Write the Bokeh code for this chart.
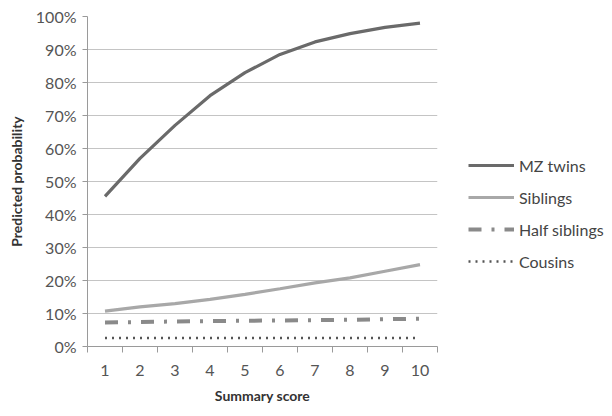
from bokeh.plotting import figure
from bokeh.models import FixedTicker, Legend, LegendItem, NumeralTickFormatter
from bokeh.embed import file_html
from bokeh.resources import INLINE

scores = [1, 2, 3, 4, 5, 6, 7, 8, 9, 10]
mz_twins = [0.455, 0.570, 0.670, 0.760, 0.830, 0.885, 0.923, 0.948, 0.967, 0.980]
siblings = [0.107, 0.120, 0.130, 0.143, 0.158, 0.175, 0.193, 0.208, 0.228, 0.248]
half_siblings = [0.073, 0.074, 0.076, 0.077, 0.078, 0.079, 0.080, 0.081, 0.083, 0.084]
cousins = [0.026, 0.026, 0.026, 0.026, 0.026, 0.026, 0.026, 0.026, 0.026, 0.026]
y_ticks = [0, 0.1, 0.2, 0.3, 0.4, 0.5, 0.6, 0.7, 0.8, 0.9, 1.0]

FONT = "Lato"
p = figure(frame_width=350, frame_height=330, x_range=(0.5, 10.5), y_range=(0, 1.0),
           output_backend="svg", toolbar_location=None,
           min_border_left=87, min_border_top=16, min_border_bottom=10, min_border_right=158)
p.outline_line_color = None
p.background_fill_color = "white"

r1 = p.line(scores, mz_twins, line_color="#6a6a6a", line_width=3.2)
r2 = p.line(scores, siblings, line_color="#a8a8a8", line_width=3.2)
r3 = p.line(scores, half_siblings, line_color="#8a8a8a", line_width=4, line_dash="13 10 3 10")
r4 = p.line(scores, cousins, line_color="#555555", line_width=2.5, line_dash="2 5")

# axes
p.xaxis.ticker = FixedTicker(ticks=scores, minor_ticks=[x + 0.5 for x in [0] + scores])
p.xaxis.major_tick_out = 0
p.xaxis.major_tick_in = 0
p.xaxis.minor_tick_out = 6
p.xaxis.minor_tick_in = 0
p.xaxis.minor_tick_line_color = "#9a9a9a"
p.xaxis.axis_line_color = "#9a9a9a"
p.xaxis.axis_label = "Summary score"

p.yaxis.ticker = FixedTicker(ticks=y_ticks)
p.yaxis.formatter = NumeralTickFormatter(format="0%")
p.yaxis.major_tick_out = 5
p.yaxis.major_tick_in = 0
p.yaxis.minor_tick_line_color = None
p.yaxis.major_tick_line_color = "#9a9a9a"
p.yaxis.axis_line_color = "#9a9a9a"
p.yaxis.axis_label = "Predicted probability"

for ax in (p.xaxis, p.yaxis):
    ax.major_label_text_font = FONT
    ax.major_label_text_font_size = "16px"
    ax.major_label_text_color = "#555555"
    ax.axis_label_text_font = FONT
    ax.axis_label_text_font_size = "14px"
    ax.axis_label_text_font_style = "bold"
    ax.axis_label_text_color = "#333333"
p.xaxis.major_label_standoff = 12
p.xaxis.axis_label_standoff = 8
p.yaxis.major_label_standoff = 6
p.yaxis.axis_label_standoff = 8

p.xgrid.grid_line_color = None
p.ygrid.grid_line_color = "#c4c4c4"
p.ygrid.grid_line_width = 1.2

legend = Legend(items=[
    LegendItem(label="MZ twins", renderers=[r1]),
    LegendItem(label="Siblings", renderers=[r2]),
    LegendItem(label="Half siblings", renderers=[r3]),
    LegendItem(label="Cousins", renderers=[r4]),
], location=(31, 75))
legend.border_line_color = None
legend.background_fill_alpha = 0
legend.glyph_width = 46
legend.glyph_height = 20
legend.spacing = 12
legend.label_standoff = 5
legend.label_text_font = FONT
legend.label_text_font_size = "16px"
legend.label_text_color = "#444444"
legend.margin = 0
legend.padding = 0
p.add_layout(legend, "right")

open("out.html", "w").write(file_html(p, INLINE))
